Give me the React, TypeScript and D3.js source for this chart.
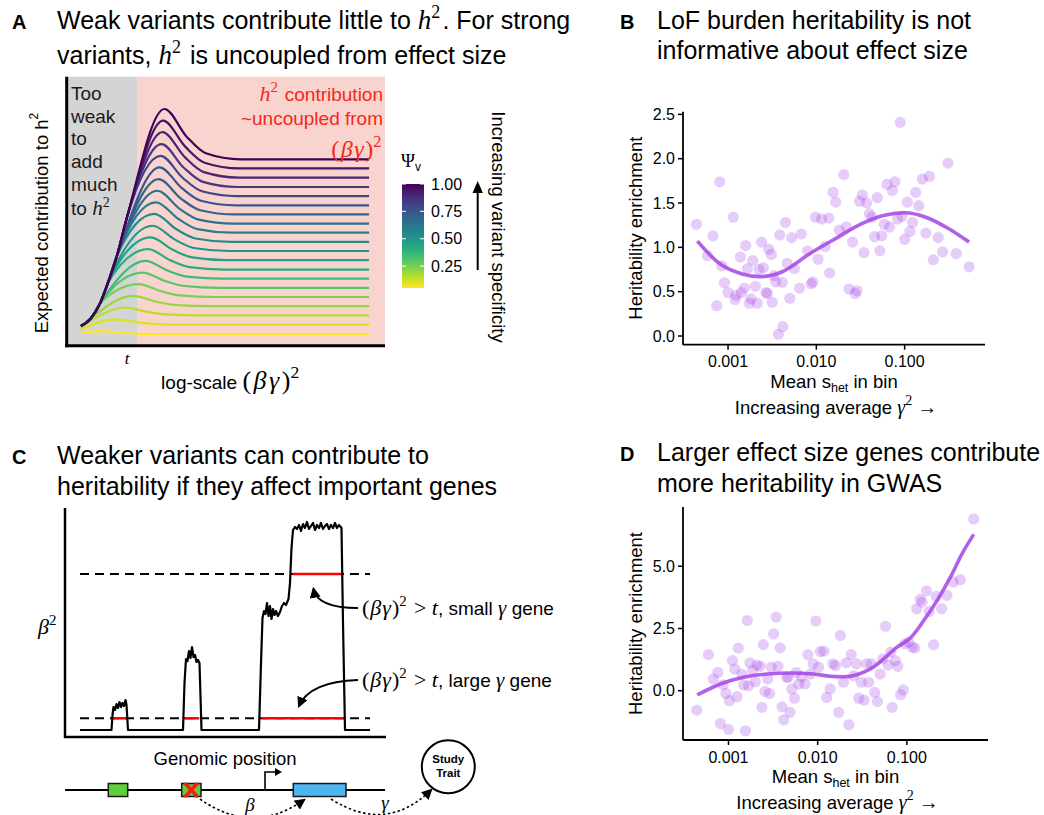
import * as d3 from "d3";

const SANS = "'Liberation Sans', Arial, Helvetica, sans-serif";
const SERIF = "'Liberation Serif', 'Times New Roman', serif";
const RED = "#f5271b";
const PURPLE = "#a443e6";
const TITLE = 25;

// ---- panel A: expected h2 contribution, one curve per specificity level
const psiLevels = [1.0, 0.95, 0.9, 0.85, 0.8, 0.75, 0.7, 0.65, 0.6, 0.55, 0.5, 0.45, 0.4, 0.35, 0.3, 0.25, 0.2, 0.15, 0.1, 0.05];
const plateauLevels = [0.693, 0.659, 0.625, 0.59, 0.556, 0.522, 0.488, 0.454, 0.42, 0.386, 0.352, 0.318, 0.283, 0.249, 0.215, 0.181, 0.147, 0.113, 0.078, 0.043];
const peakLevels = [0.88, 0.837, 0.794, 0.749, 0.706, 0.663, 0.619, 0.576, 0.533, 0.49, 0.446, 0.403, 0.359, 0.315, 0.272, 0.229, 0.185, 0.142, 0.098, 0.054];
const peakPositions = [0.307, 0.303, 0.301, 0.298, 0.295, 0.292, 0.289, 0.285, 0.281, 0.275, 0.27, 0.264, 0.256, 0.248, 0.239, 0.226, 0.209, 0.183, 0.152, 0.105];
const startLevels = [0.073, 0.073, 0.073, 0.073, 0.073, 0.073, 0.073, 0.073, 0.073, 0.073, 0.073, 0.073, 0.073, 0.073, 0.073, 0.071, 0.069, 0.066, 0.06, 0.048];
// shared rising edge
const riseX = [0.075, 0.105, 0.13, 0.157, 0.19, 0.223, 0.245];
const riseY = [0.1, 0.158, 0.235, 0.331, 0.48, 0.653, 0.75];
// how the bump settles down after the peak
const decayOffsets = [0.07, 0.13, 0.24];
const decayShares = [0.45, 0.12, 0];
const curveStartX = 0.045;
const curveEndX = 0.95;
const weakZoneEnd = 0.223;
const psiTicks = [0.25, 0.5, 0.75, 1.0];
const weakWords = ["Too", "weak", "to", "add", "much"];

// ---- panel B: LoF burden heritability (log10 mean s_het)
const bLogShet = [-3.358, -3.17, -3.094, -3.234, -3.128, -3.07, -3.04, -3.0, -2.94, -2.92, -2.91, -2.86, -2.85, -2.815, -2.8, -2.78, -2.74, -2.76, -2.72, -2.69, -2.67, -2.65, -2.62, -2.6, -2.57, -2.555, -2.54, -2.51, -2.5, -2.48, -2.46, -2.43, -2.415, -2.385, -2.38, -2.35, -2.33, -2.3, -2.28, -2.25, -2.19, -2.17, -2.1, -2.06, -2.04, -2.01, -1.98, -1.94, -1.9, -1.86, -1.85, -1.81, -1.78, -1.74, -1.69, -1.66, -1.63, -1.59, -1.56, -1.54, -1.51, -1.48, -1.46, -1.43, -1.4, -1.37, -1.34, -1.31, -1.28, -1.26, -1.23, -1.2, -1.17, -1.14, -1.11, -1.08, -1.05, -1.03, -1.0, -0.97, -0.94, -0.91, -0.875, -0.84, -0.8, -0.76, -0.72, -0.675, -0.62, -0.57, -0.51, -0.415, -0.27];
const bEnrichment = [1.26, 1.13, 1.74, 0.906, 0.342, 0.79, 0.6, 0.49, 1.34, 0.41, 0.46, 0.89, 0.49, 0.54, 1.02, 0.76, 0.42, 0.37, 0.85, 0.56, 0.37, 0.75, 1.06, 0.77, 0.49, 0.48, 0.98, 0.92, 0.38, 0.68, 0.61, 0.02, 1.14, 0.605, 0.105, 1.28, 0.82, 0.425, 1.11, 0.76, 0.54, 1.15, 0.96, 0.59, 0.61, 1.34, 0.865, 1.32, 1.01, 1.33, 0.71, 1.62, 1.51, 1.195, 1.82, 1.23, 0.53, 1.06, 0.48, 0.51, 1.52, 1.59, 0.94, 1.5, 1.38, 1.34, 1.12, 1.56, 0.96, 1.13, 1.26, 1.71, 1.23, 1.64, 1.74, 1.32, 2.41, 1.35, 1.09, 1.51, 1.18, 1.28, 1.62, 1.47, 1.77, 1.16, 1.8, 0.86, 1.11, 0.95, 1.95, 0.93, 0.78];
const bFitLog = [-3.347, -3.1, -2.84, -2.63, -2.385, -2.08, -1.78, -1.48, -1.215, -0.99, -0.76, -0.5, -0.27];
const bFitValue = [1.071, 0.82, 0.7, 0.67, 0.725, 0.925, 1.1, 1.27, 1.365, 1.39, 1.34, 1.21, 1.06];
const bYTicks = [0, 0.5, 1, 1.5, 2, 2.5];

// ---- panel D: GWAS heritability
const dLogShet = [-3.356, -3.225, -3.17, -3.12, -3.09, -3.06, -3.03, -3.0, -2.99, -2.955, -2.93, -2.905, -2.89, -2.85, -2.83, -2.81, -2.79, -2.775, -2.76, -2.73, -2.7, -2.68, -2.645, -2.625, -2.61, -2.59, -2.56, -2.54, -2.52, -2.495, -2.465, -2.445, -2.42, -2.4, -2.38, -2.35, -2.33, -2.31, -2.29, -2.26, -2.24, -2.21, -2.18, -2.14, -2.11, -2.08, -2.05, -2.02, -1.99, -1.97, -1.93, -1.9, -1.86, -1.83, -1.8, -1.765, -1.745, -1.71, -1.68, -1.65, -1.625, -1.595, -1.565, -1.54, -1.51, -1.48, -1.45, -1.43, -1.4, -1.36, -1.33, -1.3, -1.27, -1.24, -1.21, -1.18, -1.165, -1.13, -1.1, -1.07, -1.04, -1.02, -0.98, -0.94, -0.91, -0.89, -0.85, -0.83, -0.78, -0.75, -0.7, -0.67, -0.61, -0.55, -0.48, -0.4, -0.25];
const dEnrichment = [-0.78, 1.45, 0.47, 0.74, -1.32, 0.24, -0.11, -1.55, -0.4, 1.21, 0.87, -0.24, 1.71, 0.67, 0.23, -1.61, 2.82, 0.2, 1.12, 0.81, 0.36, 1.03, 0.98, -0.67, 1.85, -0.03, 0.47, -0.11, 0.94, 2.28, 2.96, 0.98, 1.72, -0.65, -1.17, 0.54, 0.54, -0.87, 0.07, -0.3, 0.74, 0.27, 0.56, 0.27, 1.45, 0.67, 1.08, 2.8, 0.94, 1.57, 1.59, -0.27, 0.07, 1.08, 1.01, -0.87, 2.22, 0.34, 1.12, -1.37, 1.45, 0.6, 1.08, -0.3, 0.34, -0.38, 1.08, 0.34, 1.08, -0.07, -0.44, 0.67, 1.28, 2.59, 1.03, 1.55, -0.67, 1.21, 0.98, -0.16, 0.03, 1.88, 1.95, 1.75, 1.71, 3.29, 3.67, 3.56, 4.01, 3.19, 1.84, 3.79, 3.29, 3.83, 4.37, 4.46, 6.9];
const dFitLog = [-3.35, -3.09, -2.83, -2.57, -2.31, -2.045, -1.86, -1.71, -1.56, -1.41, -1.26, -1.11, -0.96, -0.81, -0.66, -0.51, -0.38, -0.25];
const dFitValue = [-0.17, 0.27, 0.54, 0.67, 0.71, 0.67, 0.58, 0.56, 0.645, 0.87, 1.28, 1.75, 2.12, 2.82, 3.63, 4.57, 5.51, 6.28];
const dYTicks = [0, 2.5, 5];
const shetTicks = [0.001, 0.01, 0.1];

// ---- panel C: beta^2 along the genome
const cPos = [15, 46.5, 47.5, 48.5, 50, 51.5, 53, 54.5, 56, 57.5, 59, 60.5, 61.5, 63, 118, 119.5, 121, 122.5, 124, 125.5, 127, 128.5, 130, 131.5, 133, 134.5, 136.5, 194, 196, 197.5, 199, 200.5, 202, 203.5, 205, 206.5, 208, 209.5, 211, 213, 215, 217, 219, 221, 223.5, 225, 226.5, 228, 230, 232, 234, 236, 238, 240, 242, 244, 246, 248, 250, 252, 254, 256, 258, 260, 262, 264, 266, 268, 270, 272, 274, 276.5, 278, 280, 305];
const cBeta2 = [3, 3, 18, 26, 23, 29, 25, 31, 26, 30, 27, 33, 28, 3, 3, 50, 74, 72, 82, 75, 86, 76, 78, 71, 73, 70, 3, 3, 70, 115, 122, 119, 130, 117, 127, 114, 124, 118, 122, 117, 121, 127, 130, 128, 134, 150, 185, 203, 206, 204, 208, 202, 209, 205, 211, 204, 207, 210, 203, 208, 205, 210, 204, 207, 209, 204, 208, 205, 210, 205, 208, 205, 110, 3, 3];
const cThresholds = [14.7, 159];
const lowHitStart = [47.7, 119, 196.7];
const lowHitEnd = [61.7, 134.3, 280];
const highHitStart = [227.7];
const highHitEnd = [277.7];

function Sup({ base, size, sup, supSize, lift = 9, italic = true }: any) {
  return (
    <>
      <tspan fontFamily={SERIF} fontStyle={italic ? "italic" : "normal"} fontSize={size}>{base}</tspan>
      <tspan fontFamily={SERIF} fontSize={supSize} dy={-lift}>{sup}</tspan>
      <tspan dy={lift}>{"\u200a"}</tspan>
    </>
  );
}

function BetaGamma({ size, spacing = 0 }: { size: number; spacing?: number }) {
  return (
    <>
      <tspan fontFamily={SERIF} fontSize={size} letterSpacing={spacing}>(</tspan>
      <tspan fontFamily={SERIF} fontStyle="italic" fontSize={size} letterSpacing={spacing}>{"\u03b2\u03b3"}</tspan>
      <tspan fontFamily={SERIF} fontSize={size}>)</tspan>
      <tspan fontFamily={SERIF} fontSize={size * 0.68} dy={-size * 0.42}>2</tspan>
      <tspan dy={size * 0.42}>{"\u200a"}</tspan>
    </>
  );
}

function PanelA() {
  const x = d3.scaleLinear().domain([0, 1]).range([66.7, 385]);
  const y = d3.scaleLinear().domain([0, 1]).range([345.7, 76.7]);
  const color = d3.scaleSequential(d3.interpolateViridis).domain([1, 0.05]);
  const bar = d3.scaleLinear().domain([0.05, 1]).range([288, 184]);
  const line = d3
    .line<[number, number]>()
    .x((d) => x(d[0]))
    .y((d) => y(d[1]))
    .curve(d3.curveMonotoneX);

  const curves = psiLevels.map((psi, i) => {
    const pts: [number, number][] = [[curveStartX, startLevels[i]]];
    riseX.forEach((rx, k) => {
      if (riseY[k] < 0.7 * peakLevels[i] && rx < peakPositions[i] - 0.03) pts.push([rx, riseY[k]]);
    });
    pts.push([peakPositions[i], peakLevels[i]]);
    decayOffsets.forEach((off, k) => {
      pts.push([peakPositions[i] + off, plateauLevels[i] + decayShares[k] * (peakLevels[i] - plateauLevels[i])]);
    });
    pts.push([curveEndX, plateauLevels[i]]);
    return { psi, pts };
  });

  const gradStops = d3.range(0, 1.0001, 0.1);

  return (
    <g>
      <text x={12} y={29} fontSize={20} fontWeight="bold">A</text>
      <text x={57} y={29} fontSize={TITLE}>
        Weak variants contribute little to <Sup base="h" size={27} sup="2" supSize={18} lift={11} />. For strong
      </text>
      <text x={57} y={64} fontSize={TITLE}>
        variants, <Sup base="h" size={27} sup="2" supSize={18} lift={11} /> is uncoupled from effect size
      </text>

      <rect x={x(0)} y={y(1)} width={x(weakZoneEnd) - x(0)} height={y(0) - y(1)} fill="#d4d4d4" />
      <rect x={x(weakZoneEnd)} y={y(1)} width={x(1) - x(weakZoneEnd)} height={y(0) - y(1)} fill="#f9d4cf" />

      {curves
        .slice()
        .reverse()
        .map((c) => (
          <path key={c.psi} d={line(c.pts) ?? ""} fill="none" stroke={color(c.psi)} strokeWidth={2.2} />
        ))}

      <line x1={x(0)} x2={x(0)} y1={y(1)} y2={y(0) + 1.5} stroke="#000" strokeWidth={3} />
      <line x1={x(0) - 1.5} x2={x(1)} y1={y(0)} y2={y(0)} stroke="#000" strokeWidth={3} />

      {weakWords.map((w, i) => (
        <text key={w + i} x={71} y={100 + i * 22.7} fontSize={19} fill="#1a1a1a">{w}</text>
      ))}
      <text x={71} y={101 + 5 * 22.7} fontSize={19} fill="#1a1a1a">
        to <Sup base="h" size={21} sup="2" supSize={14} lift={8} />
      </text>

      <g fill={RED} textAnchor="end">
        <text x={383} y={101} fontSize={19}>
          <Sup base="h" size={22} sup="2" supSize={15} lift={9} /> contribution
        </text>
        <text x={383} y={125} fontSize={19}>~uncoupled from</text>
        <text x={383} y={157} fontSize={19}>
          <BetaGamma size={24} spacing={1.5} />
        </text>
      </g>

      <text x={x(0.19)} y={364} fontFamily={SERIF} fontStyle="italic" fontSize={17} textAnchor="middle">t</text>
      <text x={231} y={389} fontSize={19} textAnchor="middle">
        log-scale <BetaGamma size={26} spacing={2.5} />
      </text>
      <text transform="translate(41.7,223) rotate(-90)" fontSize={18.5} textAnchor="middle" dominantBaseline="central">
        Expected contribution to  h<tspan fontSize={12} dy={-8}>2</tspan>
      </text>

      <defs>
        <linearGradient id="psiGrad" x1="0" y1="0" x2="0" y2="1">
          {gradStops.map((t) => (
            <stop key={t} offset={t} stopColor={color(1 - t * 0.95)} />
          ))}
        </linearGradient>
      </defs>
      <text x={401} y={167} fontSize={19}>
        <tspan fontFamily={SERIF}>{"\u03a8"}</tspan>
        <tspan fontSize={12} dy={4}>v</tspan>
      </text>
      <rect x={402} y={bar(1)} width={22} height={bar(0.05) - bar(1)} fill="url(#psiGrad)" />
      {psiTicks.map((t) => (
        <g key={t}>
          <line x1={402} x2={406} y1={bar(t)} y2={bar(t)} stroke="#fff" strokeWidth={1} />
          <line x1={420} x2={424} y1={bar(t)} y2={bar(t)} stroke="#fff" strokeWidth={1} />
          <text x={431} y={bar(t)} fontSize={16} dominantBaseline="central">{d3.format(".2f")(t)}</text>
        </g>
      ))}
      <line x1={477.7} x2={477.7} y1={270} y2={192} stroke="#000" strokeWidth={2} />
      <path d="M477.7,181 L472.5,193 L482.9,193 Z" fill="#000" />
      <text transform="translate(498,227) rotate(90)" fontSize={18.5} textAnchor="middle" dominantBaseline="central">
        Increasing variant specificity
      </text>
    </g>
  );
}

function Scatter({ letter, title, top, gap, logShet, values, fitLog, fitValue, yDomain, yRange, xRight, yTicks }: any) {
  const x = d3.scaleLog().domain([10 ** -3.51, 10 ** -0.09]).range([683, xRight]);
  const y = d3.scaleLinear().domain(yDomain).range(yRange);
  const pts = d3.zip(logShet, values) as [number, number][];
  const fit = d3.zip(fitLog, fitValue) as [number, number][];
  const line = d3
    .line<[number, number]>()
    .x((d) => x(10 ** d[0]))
    .y((d) => y(d[1]))
    .curve(d3.curveMonotoneX);
  const x0 = x.range()[0];
  const yb = yRange[0];
  const fy = d3.format(".1f");
  const fx = d3.format(".3f");
  return (
    <g>
      <text x={620} y={top} fontSize={20} fontWeight="bold">{letter}</text>
      <text x={657} y={top} fontSize={TITLE}>{title[0]}</text>
      <text x={657} y={top + gap} fontSize={TITLE}>{title[1]}</text>

      {pts.map((p, i) => (
        <circle key={i} cx={x(10 ** p[0])} cy={y(p[1])} r={5.6} fill={PURPLE} fillOpacity={0.27} />
      ))}
      <path d={line(fit) ?? ""} fill="none" stroke={PURPLE} strokeOpacity={0.85} strokeWidth={3.6} />

      <line x1={x0} x2={x0} y1={yRange[1]} y2={yb} stroke="#000" strokeWidth={1.8} />
      <line x1={x0} x2={xRight} y1={yb} y2={yb} stroke="#000" strokeWidth={1.8} />
      {yTicks.map((t: number) => (
        <g key={t}>
          <line x1={x0 - 5} x2={x0} y1={y(t)} y2={y(t)} stroke="#000" strokeWidth={1.5} />
          <text x={x0 - 8} y={y(t)} fontSize={16} textAnchor="end" dominantBaseline="central">{fy(t)}</text>
        </g>
      ))}
      {shetTicks.map((t) => (
        <g key={t}>
          <line x1={x(t)} x2={x(t)} y1={yb} y2={yb + 5} stroke="#000" strokeWidth={1.5} />
          <text x={x(t)} y={yb + 17} fontSize={16} textAnchor="middle" dominantBaseline="central">{fx(t)}</text>
        </g>
      ))}
      <text x={(x0 + xRight) / 2} y={yb + 43} fontSize={18.5} textAnchor="middle">
        Mean s<tspan fontSize={12.5} dy={4}>het</tspan>
        <tspan dy={-4}> in bin</tspan>
      </text>
      <text x={(x0 + xRight) / 2 + 2} y={yb + 69} fontSize={18.5} textAnchor="middle">
        Increasing average <tspan fontFamily={SERIF} fontStyle="italic" fontSize={20}>{"\u03b3"}</tspan>
        <tspan fontFamily={SERIF} fontSize={14} dy={-9}>2</tspan>
        <tspan fontFamily={SERIF} fontSize={20} dy={9}> {"\u2192"}</tspan>
      </text>
      <text
        transform={`translate(635,${(yRange[0] + yRange[1]) / 2}) rotate(-90)`}
        fontSize={18.5}
        textAnchor="middle"
        dominantBaseline="central"
      >
        Heritability enrichment
      </text>
    </g>
  );
}

function PanelC() {
  const x = d3.scaleLinear().domain([0, 321]).range([65, 386]);
  const y = d3.scaleLinear().domain([0, 225]).range([733, 508]);
  const signal = d3
    .line<[number, number]>()
    .x((d) => x(d[0]))
    .y((d) => y(d[1]));
  const sig = d3.zip(cPos, cBeta2) as [number, number][];
  const trackY = 790;
  return (
    <g>
      <defs>
        <marker id="headSolid" viewBox="0 0 10 10" refX={8} refY={5} markerWidth={11} markerHeight={11} markerUnits="userSpaceOnUse" orient="auto">
          <path d="M0,0 L10,5 L0,10 Z" fill="#000" />
        </marker>
      </defs>
      <text x={12} y={464} fontSize={20} fontWeight="bold">C</text>
      <text x={57} y={464} fontSize={TITLE}>Weaker variants can contribute to</text>
      <text x={57} y={495} fontSize={TITLE}>heritability if they affect important genes</text>

      {cThresholds.map((t) => (
        <line key={t} x1={x(15)} x2={x(305)} y1={y(t)} y2={y(t)} stroke="#000" strokeWidth={2} strokeDasharray="9,6" />
      ))}
      {lowHitStart.map((s, i) => (
        <line key={"l" + i} x1={x(s)} x2={x(lowHitEnd[i])} y1={y(cThresholds[0])} y2={y(cThresholds[0])} stroke="#ff0000" strokeWidth={2.5} />
      ))}
      {highHitStart.map((s, i) => (
        <line key={"h" + i} x1={x(s)} x2={x(highHitEnd[i])} y1={y(cThresholds[1])} y2={y(cThresholds[1])} stroke="#ff0000" strokeWidth={2.5} />
      ))}
      <path d={signal(sig) ?? ""} fill="none" stroke="#000" strokeWidth={2.2} strokeLinejoin="round" />

      <line x1={65} x2={65} y1={508} y2={738} stroke="#000" strokeWidth={2.5} />
      <line x1={64} x2={386} y1={737} y2={737} stroke="#000" strokeWidth={2.5} />
      <text x={38} y={634} fontSize={20}>
        <Sup base={"\u03b2"} size={22} sup="2" supSize={15} lift={9} />
      </text>

      <path d="M358,608 C332,608 316,602 313.5,589" fill="none" stroke="#000" strokeWidth={1.8} markerEnd="url(#headSolid)" />
      <path d="M358,680 C326,681 306,690 299,706" fill="none" stroke="#000" strokeWidth={1.8} markerEnd="url(#headSolid)" />
      <text x={362} y={615} fontSize={19}>
        <BetaGamma size={22} spacing={1} />
        <tspan fontFamily={SERIF} fontSize={22}>{" > "}</tspan>
        <tspan fontFamily={SERIF} fontStyle="italic" fontSize={22}>t</tspan>, small{" "}
        <tspan fontFamily={SERIF} fontStyle="italic" fontSize={21}>{"\u03b3"}</tspan> gene
      </text>
      <text x={362} y={687} fontSize={19}>
        <BetaGamma size={22} spacing={1} />
        <tspan fontFamily={SERIF} fontSize={22}>{" > "}</tspan>
        <tspan fontFamily={SERIF} fontStyle="italic" fontSize={22}>t</tspan>, large{" "}
        <tspan fontFamily={SERIF} fontStyle="italic" fontSize={21}>{"\u03b3"}</tspan> gene
      </text>

      <text x={225} y={765} fontSize={18.5} textAnchor="middle">Genomic position</text>

      <line x1={65} x2={385} y1={trackY} y2={trackY} stroke="#000" strokeWidth={2} />
      <rect x={x(43.3)} y={trackY - 6.5} width={x(62.7) - x(43.3)} height={13} fill="#5fcf3a" stroke="#1a1a1a" strokeWidth={1.5} />
      <rect x={x(116.7)} y={trackY - 6.5} width={x(136) - x(116.7)} height={13} fill="#5fcf3a" stroke="#1a1a1a" strokeWidth={1.5} />
      <g stroke="#ff1a1a" strokeWidth={3.5} strokeLinecap="round">
        <line x1={x(126.3) - 5.5} x2={x(126.3) + 5.5} y1={trackY - 6} y2={trackY + 6} />
        <line x1={x(126.3) - 5.5} x2={x(126.3) + 5.5} y1={trackY + 6} y2={trackY - 6} />
      </g>
      <rect x={x(228.3)} y={trackY - 6.5} width={x(281) - x(228.3)} height={13} fill="#4fb6f2" stroke="#1a1a1a" strokeWidth={1.5} />
      <path d={`M${x(200)},${trackY} V${trackY - 18} H${x(212)}`} fill="none" stroke="#000" strokeWidth={1.6} />
      <path d={`M${x(217)},${trackY - 18} L${x(210)},${trackY - 22} L${x(210)},${trackY - 14} Z`} fill="#000" />

      <circle cx={448.3} cy={766.7} r={26.5} fill="#fff" stroke="#000" strokeWidth={2} />
      <text x={448.3} y={763} fontSize={11.5} fontWeight="bold" textAnchor="middle">Study</text>
      <text x={448.3} y={777} fontSize={11.5} fontWeight="bold" textAnchor="middle">Trait</text>

      <path d="M200,799 Q252,836 304,800" fill="none" stroke="#000" strokeWidth={1.6} strokeDasharray="2.5,2.5" markerEnd="url(#headSolid)" />
      <path d="M331,799 Q386,834 431,790" fill="none" stroke="#000" strokeWidth={1.6} strokeDasharray="2.5,2.5" markerEnd="url(#headSolid)" />
      <text x={250} y={811} fontFamily={SERIF} fontStyle="italic" fontSize={19} textAnchor="middle">{"\u03b2"}</text>
      <text x={385} y={809} fontFamily={SERIF} fontStyle="italic" fontSize={19} textAnchor="middle">{"\u03b3"}</text>
    </g>
  );
}

export default function App() {
  return (
    <svg
      width={1044}
      height={815}
      style={{ position: "absolute", left: 0, top: 0, background: "#fff" }}
      fontFamily={SANS}
    >
      <PanelA />
      <Scatter
        letter="B"
        title={["LoF burden heritability is not", "informative about effect size"]}
        top={29}
        gap={30}
        logShet={bLogShet}
        values={bEnrichment}
        fitLog={bFitLog}
        fitValue={bFitValue}
        yDomain={[-0.098, 2.53]}
        yRange={[344.7, 111.7]}
        xRight={985}
        yTicks={bYTicks}
      />
      <PanelC />
      <Scatter
        letter="D"
        title={["Larger effect size genes contribute", "more heritability in GWAS"]}
        top={461}
        gap={31}
        logShet={dLogShet}
        values={dEnrichment}
        fitLog={dFitLog}
        fitValue={dFitValue}
        yDomain={[-1.98, 7.38]}
        yRange={[740, 507]}
        xRight={988}
        yTicks={dYTicks}
      />
    </svg>
  );
}
